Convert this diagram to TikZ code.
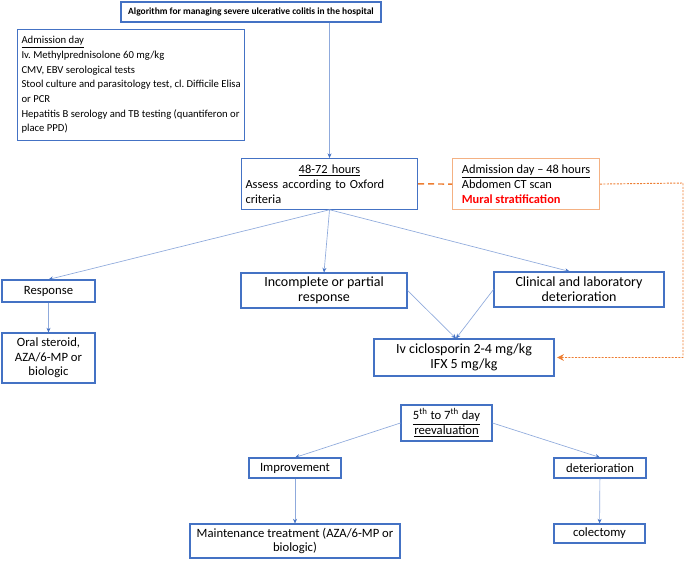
\documentclass[tikz,border=0pt]{standalone}
\usepackage{fontspec}
\setmainfont{Carlito}
\usepackage{tikz}
\usetikzlibrary{arrows.meta}

\definecolor{boxblue}{RGB}{68,114,196}
\definecolor{lineblue}{RGB}{143,170,220}
\definecolor{ctorange}{RGB}{244,177,131}
\definecolor{darkorange}{RGB}{237,125,49}

\tikzset{
  stage/.style={draw=boxblue,line width=0.8pt,align=center,inner sep=2pt,
    font=\fontsize{9.5}{11}\selectfont\frenchspacing},
  bigstage/.style={stage,font=\fontsize{10.5}{11}\selectfont\frenchspacing},
  notes/.style={stage,align=left,anchor=north west},
  flow/.style={->,draw=lineblue,line width=0.5pt},
  ctlink/.style={draw=darkorange,line width=1.1pt,dash pattern=on 4.5pt off 3pt},
  ctroute/.style={->,draw=darkorange,line width=0.7pt,dash pattern=on 1.5pt off 1pt}
}

\begin{document}
\begin{tikzpicture}[x=0.75pt,y=-0.75pt,>={Stealth[length=3.5pt,width=3pt,color=boxblue]}]
      \useasboundingbox (0,0) rectangle (685,561);

      \node[stage,minimum width=195pt,minimum height=15pt,font=\fontsize{7.1}{9}\selectfont] (title) at (251,12)
        {\textbf{Algorithm for managing severe ulcerative colitis in the hospital}};
      \node[notes,minimum width=160.5pt,minimum height=83pt,inner sep=3pt,font=\fontsize{8}{11}\selectfont\frenchspacing] (adm) at (17,29)
        {\underline{Admission day}\\
         Iv. Methylprednisolone 60 mg/kg\\
         CMV, EBV serological tests\\
         Stool culture and parasitology test, cl. Difficile Elisa\\
         or PCR\\
         Hepatitis B serology and TB testing (quantiferon or\\
         place PPD)};
      \node[notes,text width=126pt,minimum height=38pt,inner sep=3pt,font=\fontsize{9.3}{11.2}\selectfont] (assess) at (241,158)
        {\makebox[\linewidth]{\underline{48-72 hours}}\\
         Assess according to Oxford\\
         criteria};
      \node[notes,draw=ctorange,line width=1.1pt,minimum width=110pt,minimum height=38pt,inner sep=3pt,font=\fontsize{9.3}{11.2}\selectfont] (ct) at (452,158)
        {\underline{Admission day -- 48 hours}\\
         Abdomen CT scan\\
         \textcolor{red}{\textbf{Mural stratification}}};

      \node[stage,minimum width=69.75pt,minimum height=16.5pt] (resp) at (48.5,291) {Response};
      \node[bigstage,minimum width=124.5pt,minimum height=26.25pt] (incomp) at (324,290.5)
        {Incomplete or partial\\ response};
      \node[bigstage,minimum width=127.5pt,minimum height=26.25pt] (clin) at (579,289.5)
        {Clinical and laboratory\\ deterioration};
      \node[stage,minimum width=69.75pt,minimum height=37.5pt] (oral) at (48.5,358)
        {Oral steroid,\\ AZA/6-MP or\\ biologic};
      \node[bigstage,minimum width=135pt,minimum height=27.75pt] (cyclo) at (464,357.5)
        {Iv ciclosporin 2-4 mg/kg\\ IFX 5 mg/kg};

      \node[stage,minimum width=68.25pt,minimum height=27pt] (reeval) at (446.5,423)
        {\underline{5\textsuperscript{th} to 7\textsuperscript{th} day}\\ \underline{reevaluation}};
      \node[stage,minimum width=69pt,minimum height=15pt] (improv) at (295,468) {Improvement};
      \node[stage,minimum width=69pt,minimum height=15pt] (deter) at (600,468) {deterioration};
      \node[stage,minimum width=157.5pt,minimum height=25.5pt] (maint) at (295,541)
        {Maintenance treatment (AZA/6-MP or\\ biologic)};
      \node[stage,minimum width=68.25pt,minimum height=14.25pt] (colect) at (599.5,533.5) {colectomy};

      \coordinate (route) at (683,183);

      \draw[flow] (title.south -| assess.north) -- (assess.north);
      \draw[flow] (assess.south) -- (resp.north);
      \draw[flow] (assess.south) -- (incomp.north);
      \draw[flow] (assess.south) -- ([xshift=-7pt]clin.north);
      \draw[flow] (resp) -- (oral);
      \draw[flow] (incomp.east) -- ([xshift=-6pt]cyclo.north);
      \draw[flow] (clin.west) -- ([xshift=-6pt]cyclo.north);
      \draw[flow] (reeval.west) -- (improv.north);
      \draw[flow] (reeval.east) -- (deter.north);
      \draw[flow] (improv) -- (maint);
      \draw[flow] (deter) -- (colect);

      \draw[ctlink] (assess.east) -- (ct.west);
      \draw[ctroute,>={Stealth[length=5pt,width=5pt,color=darkorange]}] (ct.east) -- (route) |- ([xshift=2pt]cyclo.east);
    \end{tikzpicture}
\end{document}
